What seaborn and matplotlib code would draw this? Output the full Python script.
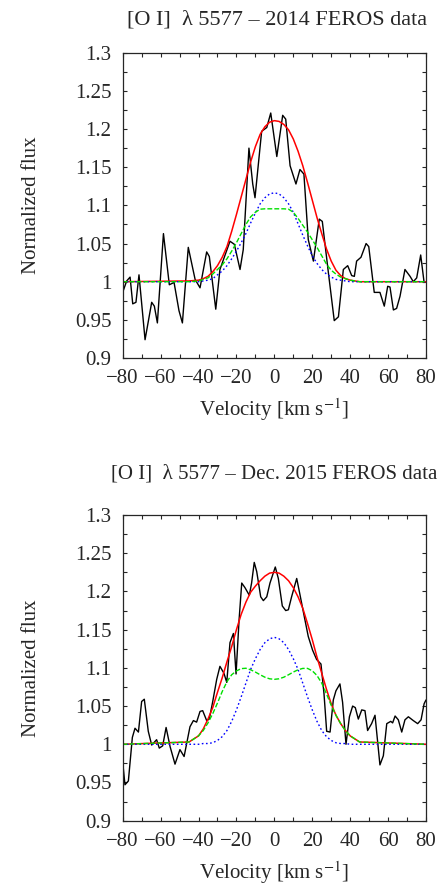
import numpy as np
import pandas as pd
import matplotlib
matplotlib.use("Agg")
import matplotlib.pyplot as plt
from matplotlib.ticker import MultipleLocator, FuncFormatter
import seaborn as sns

top_vel = [-80.0, -77.9, -76.1, -74.7, -73.0, -71.4, -68.2, -64.7, -63.3, -61.7,
           -58.5, -55.4, -52.9, -50.3, -48.5, -45.4, -41.8, -39.2, -35.7, -34.3,
           -30.9, -28.7, -23.4, -21.1, -18.1, -16.4, -13.4, -11.4, -10.2, -6.7,
           -4.0, -1.9, 1.3, 4.4, 6.0, 8.3, 11.4, 13.5, 15.6, 17.9,
           20.6, 23.7, 25.3, 28.5, 31.6, 33.8, 36.4, 38.7, 40.8, 42.2,
           43.4, 45.7, 48.4, 49.8, 52.7, 55.7, 58.0, 59.8, 61.0, 62.8,
           64.5, 66.3, 68.9, 71.6, 73.3, 75.1, 77.2, 79.0]
top_flux = [0.986, 1.001, 1.006, 0.971, 0.973, 1.009, 0.924, 0.973, 0.968, 0.946,
            1.063, 0.996, 0.999, 0.962, 0.946, 1.045, 1.003, 0.992, 1.039, 1.033,
            0.964, 1.016, 1.053, 1.049, 1.016, 1.042, 1.175, 1.128, 1.110, 1.197,
            1.202, 1.221, 1.164, 1.218, 1.213, 1.152, 1.128, 1.147, 1.141, 1.055,
            1.027, 1.082, 1.079, 1.012, 0.949, 0.954, 1.016, 1.021, 1.008, 1.007,
            1.027, 1.032, 1.050, 1.046, 0.986, 0.986, 0.968, 0.994, 0.993, 0.963,
            0.965, 0.981, 1.016, 1.007, 1.000, 1.005, 1.035, 0.999]

bot_vel = [-80.0, -78.8, -77.0, -74.9, -73.5, -71.7, -70.0, -68.6, -66.5, -64.7,
           -62.1, -60.7, -58.9, -57.1, -55.0, -52.4, -49.8, -47.6, -44.5, -42.7,
           -41.0, -39.2, -37.8, -35.7, -34.3, -32.5, -30.4, -28.7, -26.6, -25.1,
           -23.4, -21.6, -20.2, -18.6, -17.2, -15.5, -13.2, -12.0, -10.6, -9.3,
           -7.2, -5.8, -4.0, -2.3, 0.5, 2.1, 4.2, 6.0, 7.4, 9.1,
           11.8, 13.5, 15.8, 17.9, 20.2, 22.3, 24.6, 26.2, 27.6, 29.4,
           31.1, 32.5, 34.6, 36.0, 37.8, 39.6, 41.3, 42.7, 44.3, 46.1,
           47.8, 49.2, 51.3, 53.1, 55.7, 57.5, 59.3, 61.4, 62.4, 63.7,
           65.4, 67.2, 68.9, 70.7, 73.3, 75.6, 77.4, 79.0, 80.0]
bot_flux = [0.977, 0.947, 0.952, 1.009, 1.021, 1.016, 1.056, 1.059, 1.017, 0.999,
            1.006, 0.995, 0.998, 1.022, 0.997, 0.974, 0.993, 0.984, 1.023, 1.031,
            1.029, 1.043, 1.044, 1.031, 1.033, 1.056, 1.085, 1.102, 1.093, 1.081,
            1.133, 1.145, 1.092, 1.163, 1.211, 1.205, 1.195, 1.211, 1.238, 1.226,
            1.193, 1.188, 1.193, 1.211, 1.232, 1.217, 1.181, 1.175, 1.176, 1.193,
            1.217, 1.196, 1.167, 1.141, 1.123, 1.111, 1.105, 1.066, 1.017, 1.016,
            1.058, 1.070, 1.079, 1.055, 1.000, 1.036, 1.050, 1.048, 1.033, 1.045,
            1.044, 1.018, 1.027, 1.038, 0.973, 0.985, 1.027, 1.030, 1.028, 1.037,
            1.032, 1.016, 1.032, 1.036, 1.031, 1.027, 1.032, 1.053, 1.058]

# ---- fitted components ----
fit_vel = [-80, -45, -40, -37.5, -35, -32.5, -30, -27.5, -25, -22.5, -20, -17.5,
           -15, -12.5, -10, -7.5, -5, -2.5, 0, 2.5, 5, 7.5, 10, 12.5, 15, 17.5,
           20, 22.5, 25, 27.5, 30, 32.5, 35, 37.5, 40, 45, 80]

top_total = [1.0, 1.001, 1.002, 1.004, 1.007, 1.013, 1.021, 1.032, 1.046, 1.066, 1.088, 1.111,
             1.134, 1.157, 1.177, 1.193, 1.203, 1.209, 1.211, 1.210, 1.206, 1.199, 1.187, 1.171,
             1.152, 1.130, 1.107, 1.084, 1.063, 1.043, 1.027, 1.015, 1.008, 1.004, 1.002, 1.000, 1.0]
top_narrow = [1.0, 1.0, 1.000, 1.001, 1.002, 1.004, 1.009, 1.014, 1.021, 1.030, 1.040, 1.051,
              1.063, 1.077, 1.090, 1.102, 1.110, 1.115, 1.1165, 1.115, 1.110, 1.102, 1.091, 1.076,
              1.061, 1.047, 1.034, 1.024, 1.016, 1.010, 1.006, 1.003, 1.002, 1.001, 1.000, 1.0, 1.0]
top_broad = [1.0, 1.000, 1.001, 1.003, 1.005, 1.010, 1.016, 1.022, 1.030, 1.040, 1.051, 1.063,
             1.075, 1.085, 1.091, 1.095, 1.0955, 1.0955, 1.0955, 1.0955, 1.0955, 1.095, 1.091, 1.083,
             1.074, 1.065, 1.055, 1.045, 1.034, 1.023, 1.015, 1.010, 1.006, 1.004, 1.002, 1.000, 1.0]

bot_total = [1.0, 1.003, 1.011, 1.020, 1.033, 1.048, 1.068, 1.087, 1.108, 1.128, 1.150, 1.170,
             1.186, 1.199, 1.207, 1.214, 1.220, 1.224, 1.225, 1.224, 1.220, 1.214, 1.205, 1.193,
             1.178, 1.158, 1.137, 1.114, 1.093, 1.072, 1.053, 1.038, 1.027, 1.018, 1.011, 1.003, 1.0]
bot_narrow = [1.0, 1.0, 1.000, 1.001, 1.001, 1.002, 1.005, 1.010, 1.018, 1.030, 1.045, 1.062,
              1.080, 1.098, 1.112, 1.124, 1.133, 1.138, 1.140, 1.138, 1.133, 1.124, 1.112, 1.098,
              1.080, 1.062, 1.045, 1.030, 1.018, 1.010, 1.005, 1.002, 1.001, 1.001, 1.000, 1.0, 1.0]
bot_broad = [1.0, 1.003, 1.011, 1.018, 1.028, 1.040, 1.054, 1.069, 1.082, 1.091, 1.096, 1.099,
             1.0995, 1.0975, 1.0945, 1.091, 1.0878, 1.0857, 1.085, 1.0857, 1.0878, 1.091, 1.0945, 1.0975,
             1.0993, 1.0993, 1.0962, 1.090, 1.080, 1.066, 1.051, 1.038, 1.027, 1.018, 1.011, 1.003, 1.0]

titles = ["[O I]  λ 5577 – 2014 FEROS data", "[O I]  λ 5577 – Dec. 2015 FEROS data"]

sns.set_style("ticks")
plt.rcParams["font.family"] = ["Liberation Serif", "DejaVu Serif"]
plt.rcParams["mathtext.fontset"] = "stix"
plt.rcParams["axes.unicode_minus"] = True


def draw_panel(ax, vel, flux, total, narrow, broad, title, pad, tsize, tx):
    sns.lineplot(x=vel, y=flux, ax=ax, color="black", lw=1.0, sort=False)
    sns.lineplot(x=fit_vel, y=total, ax=ax, color="#ff0000", lw=1.1, sort=False)
    sns.lineplot(x=fit_vel, y=narrow, ax=ax, color="#0000ff", lw=1.0,
                 linestyle=(0, (1.2, 1.8)), sort=False)
    sns.lineplot(x=fit_vel, y=broad, ax=ax, color="#00e000", lw=1.0,
                 linestyle=(0, (3.5, 1.5)), sort=False)

    ax.set_xlim(-80, 80)
    ax.set_ylim(0.9, 1.3)
    ax.xaxis.set_major_locator(MultipleLocator(20))
    ax.xaxis.set_minor_locator(MultipleLocator(10))
    ax.yaxis.set_major_locator(MultipleLocator(0.05))
    ax.yaxis.set_minor_locator(MultipleLocator(0.025))
    ax.yaxis.set_major_formatter(FuncFormatter(lambda v, p: "%g" % round(v, 3)))
    ax.tick_params(which="both", direction="in", top=True, right=True,
                   length=3, width=0.8, labelsize=15, pad=8)
    for s in ax.spines.values():
        s.set_linewidth(0.9)
        s.set_visible(True)

    ax.set_title(title, fontsize=tsize, pad=pad, x=tx)
    ax.set_xlabel("Velocity [km s$^{-1}$]", fontsize=15)
    ax.set_ylabel("Normalized flux", fontsize=15)
    ax.xaxis.set_label_coords(0.5, -0.125)
    ax.yaxis.set_label_coords(-0.27, 0.5)


fig = plt.figure(figsize=(4.45, 8.86), dpi=100)
ax1 = fig.add_axes([0.2757, 0.5959, 0.6816, 0.3446])
ax2 = fig.add_axes([0.2757, 0.0737, 0.6816, 0.3450])

draw_panel(ax1, top_vel, top_flux, top_total, top_narrow, top_broad, titles[0], 20, 16, 0.51)
draw_panel(ax2, bot_vel, bot_flux, bot_total, bot_narrow, bot_broad, titles[1], 26, 15, 0.5)

fig.savefig("out.png", dpi=100)
